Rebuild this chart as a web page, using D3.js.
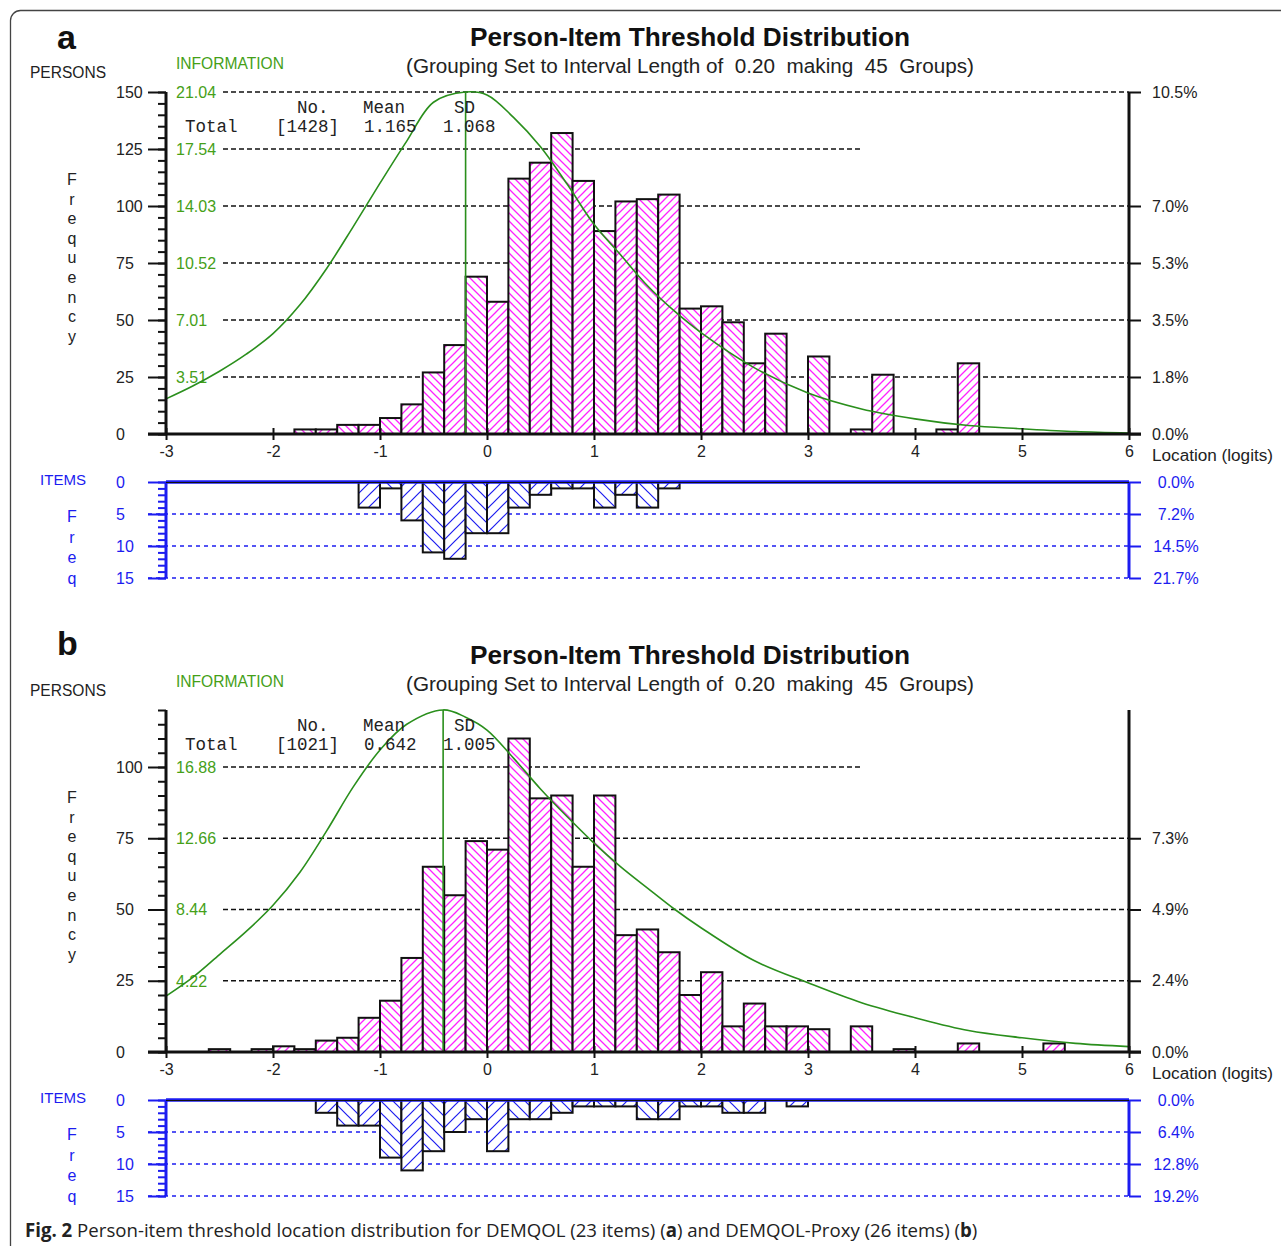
<!DOCTYPE html>
<html lang="en">
<head>
<meta charset="utf-8">
<title>person-item threshold distribution</title>
<script src="https://cdn.jsdelivr.net/npm/d3@7"></script>
<style>
body { margin: 0; background: #fff; }
text { font-family: "Liberation Sans", Arial, sans-serif; }
</style>
</head>
<body>
<script>

// page size
var w = 1281;
var h = 1246;
var binWidth = 0.2;

// ---- panel a : DEMQOL ----
var personLocA  = [-1.8,-1.6,-1.4,-1.2,-1.0,-0.8,-0.6,-0.4,-0.2,0,0.2,0.4,0.6,0.8,1.0,1.2,1.4,1.6,1.8,2.0,2.2,2.4,2.6,3.0,3.4,3.6,4.2,4.4];
var personFreqA = [2,2,4,4,7,13,27,39,69,58,112,119,132,111,89,102,103,105,55,56,49,31,44,34,2,26,2,31];
var itemLocA  = [-1.2,-1.0,-0.8,-0.6,-0.4,-0.2,0,0.2,0.4,0.6,0.8,1.0,1.2,1.4,1.6];
var itemFreqA = [4,1,6,11,12,8,8,4,2,1,1,4,2,4,1];
var infoLocA = [-3,-2.75,-2.5,-2.25,-2,-1.75,-1.5,-1.25,-1,-0.75,-0.5,-0.2,0,0.25,0.5,0.75,1,1.25,1.5,1.75,2,2.5,3,3.5,4,4.5,5,5.5,6];
var infoA    = [2.16,2.95,3.86,4.91,6.17,7.93,10.17,12.76,15.43,18.02,20.41,21.04,20.86,19.46,17.67,15.36,12.90,11.01,9.12,7.57,6.24,4.07,2.52,1.54,0.93,0.52,0.32,0.15,0.06];
var freqTicksA   = [0,25,50,75,100,125,150];
var infoTickValsA = [25,50,75,100,125,150];
var infoTicksA    = ["3.51","7.01","10.52","14.03","17.54","21.04"];
var pctValsA   = [0,25,50,75,100,150];
var pctTicksA  = ["0.0%","1.8%","3.5%","5.3%","7.0%","10.5%"];
var itemPctA   = ["0.0%","7.2%","14.5%","21.7%"];
var statsA = ["[1428]","1.165","1.068"];

// ---- panel b : DEMQOL-Proxy ----
var personLocB  = [-2.6,-2.2,-2.0,-1.8,-1.6,-1.4,-1.2,-1.0,-0.8,-0.6,-0.4,-0.2,0,0.2,0.4,0.6,0.8,1.0,1.2,1.4,1.6,1.8,2.0,2.2,2.4,2.6,2.8,3.0,3.4,3.8,4.4,5.2];
var personFreqB = [1,1,2,1,4,5,12,18,33,65,55,74,71,110,89,90,65,90,41,43,35,20,28,9,17,9,9,8,9,1,3,3];
var itemLocB  = [-1.6,-1.4,-1.2,-1.0,-0.8,-0.6,-0.4,-0.2,0,0.2,0.4,0.6,0.8,1.0,1.2,1.4,1.6,1.8,2.0,2.2,2.4,2.8];
var itemFreqB = [2,4,4,9,11,8,5,3,8,3,3,2,1,1,1,3,3,1,1,2,2,1];
var infoLocB = [-3,-2.75,-2.5,-2.25,-2,-1.75,-1.5,-1.25,-1,-0.75,-0.41,-0.2,0,0.25,0.5,0.75,1,1.25,1.5,1.75,2,2.5,3,3.5,4,4.5,5,5.5,6];
var infoB    = [3.31,4.42,5.77,7.14,8.69,10.63,13.08,15.70,17.89,19.41,20.26,19.83,19.07,17.39,15.58,13.93,12.37,10.97,9.71,8.47,7.36,5.40,4.10,2.92,2.03,1.27,0.84,0.51,0.32];
var freqTicksB   = [0,25,50,75,100];
var infoTickValsB = [25,50,75,100];
var infoTicksB    = ["4.22","8.44","12.66","16.88"];
var pctValsB   = [0,25,50,75];
var pctTicksB  = ["0.0%","2.4%","4.9%","7.3%"];
var itemPctB   = ["0.0%","6.4%","12.8%","19.2%"];
var statsB = ["[1021]","0.642","1.005"];

var itemTicks = [0,5,10,15];
var locTicks = [-3,-2,-1,0,1,2,3,4,5,6];

var green = "#2a8f1c";
var greenText = "#45a018";
var blue = "#1c1cf0";
var magenta = "#ff22ff";

var svg = d3.select("body")
	.append("svg")
	.attr("width", w)
	.attr("height", h);

svg.append("rect").attr("width", w).attr("height", h).attr("fill", "#fff");

// outer frame of the figure
svg.append("rect")
	.attr("x", 10.5).attr("y", 10.5)
	.attr("width", 1300).attr("height", 1270)
	.attr("rx", 10)
	.attr("fill", "none")
	.attr("stroke", "#444")
	.attr("stroke-width", 1.3);

// hatch patterns
var defs = svg.append("defs");
function hatch(id, color, s, dir, sw) {
	var p = defs.append("pattern")
		.attr("id", id)
		.attr("patternUnits", "userSpaceOnUse")
		.attr("width", s).attr("height", s);
	p.append("rect").attr("width", s).attr("height", s).attr("fill", "#fff");
	var d;
	if (dir > 0) {
		d = "M0," + s + "L" + s + ",0M-2,2L2,-2M" + (s - 2) + "," + (s + 2) + "L" + (s + 2) + "," + (s - 2);
	} else {
		d = "M0,0L" + s + "," + s + "M-2," + (s - 2) + "L2," + (s + 2) + "M" + (s - 2) + ",-2L" + (s + 2) + ",2";
	}
	p.append("path").attr("d", d).attr("stroke", color).attr("stroke-width", sw).attr("fill", "none");
}
hatch("magF", magenta, 8, 1, 1.3);
hatch("magB", magenta, 8, -1, 1.3);
hatch("bluF", blue, 12, 1, 1.2);
hatch("bluB", blue, 12, -1, 1.2);

var x = d3.scaleLinear().domain([-3, 6]).range([166, 1129]);

function hatchFor(loc, kind) {
	var k = Math.round((loc + 3) / binWidth);
	return "url(#" + kind + (k % 2 === 0 ? "B" : "F") + ")";
}

function styleAxis(g, color, size) {
	g.select(".domain").remove();
	g.attr("font-size", size);
	g.selectAll("line").attr("stroke", color).attr("stroke-width", 2);
	g.selectAll("text").attr("fill", color);
}

function drawPanel(p) {
	var dy = p.dy;
	var yMax = p.yMax;
	var y = d3.scaleLinear().domain([0, yMax]).range([434 + dy, 92 + dy]);
	var yItem = d3.scaleLinear().domain([0, 15]).range([482 + dy, 578 + dy]);
	var nInfo = p.infoVals.length;
	var yInfo = d3.scaleLinear()
		.domain([0, +p.infoLabels[nInfo - 1]])
		.range([y(0), y(p.infoVals[nInfo - 1])]);

	// headings
	svg.append("text").attr("x", 57).attr("y", p.letterY)
		.attr("font-size", 34).attr("font-weight", "bold").attr("fill", "#111")
		.text(p.letter);
	svg.append("text").attr("x", 690).attr("y", 46 + dy)
		.attr("text-anchor", "middle").attr("font-size", 25).attr("font-weight", "bold")
		.attr("textLength", 440).attr("lengthAdjust", "spacingAndGlyphs").attr("fill", "#111")
		.text("Person-Item Threshold Distribution");
	svg.append("text").attr("x", 690).attr("y", 73 + dy)
		.attr("text-anchor", "middle").attr("font-size", 20)
		.attr("textLength", 568).attr("lengthAdjust", "spacingAndGlyphs").attr("fill", "#222")
		.style("white-space", "pre")
		.text("(Grouping Set to Interval Length of  0.20  making  45  Groups)");
	svg.append("text").attr("x", 30).attr("y", 78 + dy)
		.attr("font-size", 16).attr("textLength", 76).attr("lengthAdjust", "spacingAndGlyphs")
		.attr("fill", "#222").text("PERSONS");
	svg.append("text").attr("x", 176).attr("y", 69 + dy)
		.attr("font-size", 16).attr("textLength", 108).attr("lengthAdjust", "spacingAndGlyphs")
		.attr("fill", greenText).text("INFORMATION");

	// vertical "Frequency"
	svg.selectAll(null).data("Frequency".split("")).enter().append("text")
		.attr("x", 72).attr("y", function(d, i) { return 185 + dy + i * 19.6; })
		.attr("text-anchor", "middle").attr("font-size", 16).attr("fill", "#222")
		.text(function(d) { return d; });

	// dashed grid lines
	svg.selectAll(null).data(p.infoVals).enter().append("line")
		.attr("x1", 223)
		.attr("x2", function(d) { return d === p.shortGrid ? x(3.5) : x(6); })
		.attr("y1", function(d) { return y(d); })
		.attr("y2", function(d) { return y(d); })
		.attr("stroke", "#111").attr("stroke-width", 1.5).attr("stroke-dasharray", "5,3");

	// green information labels
	svg.selectAll(null).data(p.infoVals).enter().append("text")
		.attr("x", 176).attr("y", function(d) { return y(d); }).attr("dy", "0.36em")
		.attr("font-size", 16).attr("fill", greenText)
		.text(function(d, i) { return p.infoLabels[i]; });

	// person bars
	var persons = p.personLoc.map(function(l, i) { return {loc: l, f: p.personFreq[i]}; });
	svg.selectAll(null).data(persons).enter().append("rect")
		.attr("x", function(d) { return x(d.loc); })
		.attr("width", function(d) { return x(d.loc + binWidth) - x(d.loc); })
		.attr("y", function(d) { return y(d.f); })
		.attr("height", function(d) { return y(0) - y(d.f); })
		.attr("fill", function(d) { return hatchFor(d.loc, "mag"); })
		.attr("stroke", "#111").attr("stroke-width", 2);

	// information curve
	var info = p.infoLoc.map(function(l, i) { return [l, p.info[i]]; });
	var line = d3.line()
		.x(function(d) { return x(d[0]); })
		.y(function(d) { return yInfo(d[1]); })
		.curve(d3.curveCatmullRom.alpha(0.5));
	svg.append("path").datum(info)
		.attr("d", line).attr("fill", "none")
		.attr("stroke", green).attr("stroke-width", 1.6);

	var peak = info.reduce(function(a, b) { return b[1] > a[1] ? b : a; });
	svg.append("line")
		.attr("x1", x(peak[0])).attr("x2", x(peak[0]))
		.attr("y1", yInfo(peak[1])).attr("y2", y(0))
		.attr("stroke", green).attr("stroke-width", 1.6);

	// stats box
	var statRows = [
		{t: "No.", x: 297, y: 113}, {t: "Mean", x: 363, y: 113}, {t: "SD", x: 454, y: 113},
		{t: "Total", x: 185, y: 132}, {t: p.stats[0], x: 276, y: 132},
		{t: p.stats[1], x: 364, y: 132}, {t: p.stats[2], x: 443, y: 132}
	];
	svg.selectAll(null).data(statRows).enter().append("text")
		.attr("x", function(d) { return d.x; }).attr("y", function(d) { return d.y + dy; })
		.style("font-family", "'Liberation Mono', 'Courier New', monospace")
		.attr("font-size", 17.5).attr("fill", "#222")
		.text(function(d) { return d.t; });

	// left frequency axis
	svg.append("g").attr("transform", "translate(166,0)")
		.call(d3.axisLeft(y).tickValues(d3.range(0, yMax + 1, 5)).tickSize(8).tickFormat(""))
		.call(function(g) { styleAxis(g, "#111", 16); });
	svg.append("g").attr("transform", "translate(166,0)")
		.call(d3.axisLeft(y).tickValues(p.freqTicks).tickSize(18).tickFormat(function(d) { return String(d); }))
		.call(function(g) {
			styleAxis(g, "#111", 16);
			g.selectAll("text").attr("text-anchor", "start").attr("x", -50).attr("fill", "#222");
		});
	svg.append("line").attr("x1", 166).attr("x2", 166).attr("y1", y(yMax)).attr("y2", y(0))
		.attr("stroke", "#111").attr("stroke-width", 3);

	// right percent axis
	svg.append("g").attr("transform", "translate(1129,0)")
		.call(d3.axisRight(y).tickValues(p.pctVals).tickSize(12).tickPadding(11)
			.tickFormat(function(d, i) { return p.pctLabels[i]; }))
		.call(function(g) { styleAxis(g, "#111", 16); g.selectAll("text").attr("fill", "#222"); });
	svg.append("line").attr("x1", 1129).attr("x2", 1129).attr("y1", y(yMax)).attr("y2", y(0))
		.attr("stroke", "#111").attr("stroke-width", 3);

	// bottom location axis
	svg.append("g").attr("transform", "translate(0," + y(0) + ")")
		.call(d3.axisBottom(x).tickValues(locTicks).tickSize(6).tickPadding(6)
			.tickFormat(function(d) { return String(d); }))
		.call(function(g) {
			styleAxis(g, "#111", 16);
			g.selectAll("line").attr("y1", -6);
			g.selectAll("text").attr("fill", "#222");
		});
	svg.append("line").attr("x1", 148).attr("x2", 1141).attr("y1", y(0)).attr("y2", y(0))
		.attr("stroke", "#111").attr("stroke-width", 3);
	svg.append("text").attr("x", 1152).attr("y", y(0) + 27)
		.attr("font-size", 16).attr("textLength", 121).attr("lengthAdjust", "spacingAndGlyphs")
		.attr("fill", "#222").text("Location (logits)");

	// ---- items panel ----
	svg.append("text").attr("x", 40).attr("y", 485 + dy)
		.attr("font-size", 15).attr("textLength", 46).attr("lengthAdjust", "spacingAndGlyphs")
		.attr("fill", blue).text("ITEMS");
	svg.selectAll(null).data("Freq".split("")).enter().append("text")
		.attr("x", 72).attr("y", function(d, i) { return 522 + dy + i * 20.5; })
		.attr("text-anchor", "middle").attr("font-size", 16).attr("fill", blue)
		.text(function(d) { return d; });

	svg.selectAll(null).data(itemTicks.slice(1)).enter().append("line")
		.attr("x1", 148).attr("x2", 1129)
		.attr("y1", function(d) { return yItem(d); }).attr("y2", function(d) { return yItem(d); })
		.attr("stroke", blue).attr("stroke-width", 1.5).attr("stroke-dasharray", "4,4");

	var items = p.itemLoc.map(function(l, i) { return {loc: l, f: p.itemFreq[i]}; });
	svg.selectAll(null).data(items).enter().append("rect")
		.attr("x", function(d) { return x(d.loc); })
		.attr("width", function(d) { return x(d.loc + binWidth) - x(d.loc); })
		.attr("y", yItem(0))
		.attr("height", function(d) { return yItem(d.f) - yItem(0); })
		.attr("fill", function(d) { return hatchFor(d.loc, "blu"); })
		.attr("stroke", "#111").attr("stroke-width", 2);

	svg.append("g").attr("transform", "translate(166,0)")
		.call(d3.axisLeft(yItem).tickValues(d3.range(0, 16)).tickSize(8).tickFormat(""))
		.call(function(g) { styleAxis(g, blue, 16); });
	svg.append("g").attr("transform", "translate(166,0)")
		.call(d3.axisLeft(yItem).tickValues(itemTicks).tickSize(18).tickFormat(function(d) { return String(d); }))
		.call(function(g) {
			styleAxis(g, blue, 16);
			g.selectAll("text").attr("text-anchor", "start").attr("x", -50);
		});
	svg.append("g").attr("transform", "translate(1129,0)")
		.call(d3.axisRight(yItem).tickValues(itemTicks).tickSize(12)
			.tickFormat(function(d, i) { return p.itemPct[i]; }))
		.call(function(g) {
			styleAxis(g, blue, 16);
			g.selectAll("text").attr("text-anchor", "middle").attr("x", 47);
		});
	svg.append("line").attr("x1", 166).attr("x2", 166).attr("y1", yItem(0)).attr("y2", yItem(15))
		.attr("stroke", blue).attr("stroke-width", 3);
	svg.append("line").attr("x1", 1129).attr("x2", 1129).attr("y1", yItem(0)).attr("y2", yItem(15))
		.attr("stroke", blue).attr("stroke-width", 3);
	svg.append("line").attr("x1", 166).attr("x2", 1129).attr("y1", yItem(0)).attr("y2", yItem(0))
		.attr("stroke", blue).attr("stroke-width", 3.5);
	svg.append("line").attr("x1", 166).attr("x2", 1129).attr("y1", yItem(0) + 0.5).attr("y2", yItem(0) + 0.5)
		.attr("stroke", "#111").attr("stroke-width", 1);
}

drawPanel({
	dy: 0, letter: "a", letterY: 49, yMax: 150, shortGrid: 125,
	personLoc: personLocA, personFreq: personFreqA,
	itemLoc: itemLocA, itemFreq: itemFreqA,
	infoLoc: infoLocA, info: infoA,
	freqTicks: freqTicksA, infoVals: infoTickValsA, infoLabels: infoTicksA,
	pctVals: pctValsA, pctLabels: pctTicksA, itemPct: itemPctA, stats: statsA
});

drawPanel({
	dy: 618, letter: "b", letterY: 655, yMax: 120, shortGrid: 100,
	personLoc: personLocB, personFreq: personFreqB,
	itemLoc: itemLocB, itemFreq: itemFreqB,
	infoLoc: infoLocB, info: infoB,
	freqTicks: freqTicksB, infoVals: infoTickValsB, infoLabels: infoTicksB,
	pctVals: pctValsB, pctLabels: pctTicksB, itemPct: itemPctB, stats: statsB
});

// caption, squeezed horizontally to the reference width
var cap = svg.append("text").attr("x", 0).attr("y", 0)
	.style("font-family", "'Open Sans', 'Liberation Sans', sans-serif")
	.attr("font-size", 19).attr("fill", "#222");
cap.append("tspan").attr("font-weight", "bold").text("Fig. 2");
cap.append("tspan").text(" Person-item threshold location distribution for DEMQOL (23 items) (");
cap.append("tspan").attr("font-weight", "bold").text("a");
cap.append("tspan").text(") and DEMQOL-Proxy (26 items) (");
cap.append("tspan").attr("font-weight", "bold").text("b");
cap.append("tspan").text(")");
var capLen = cap.node().getComputedTextLength();
cap.attr("transform", "translate(25,1237) scale(" + (953 / capLen) + ",1)");

</script>
</body>
</html>
